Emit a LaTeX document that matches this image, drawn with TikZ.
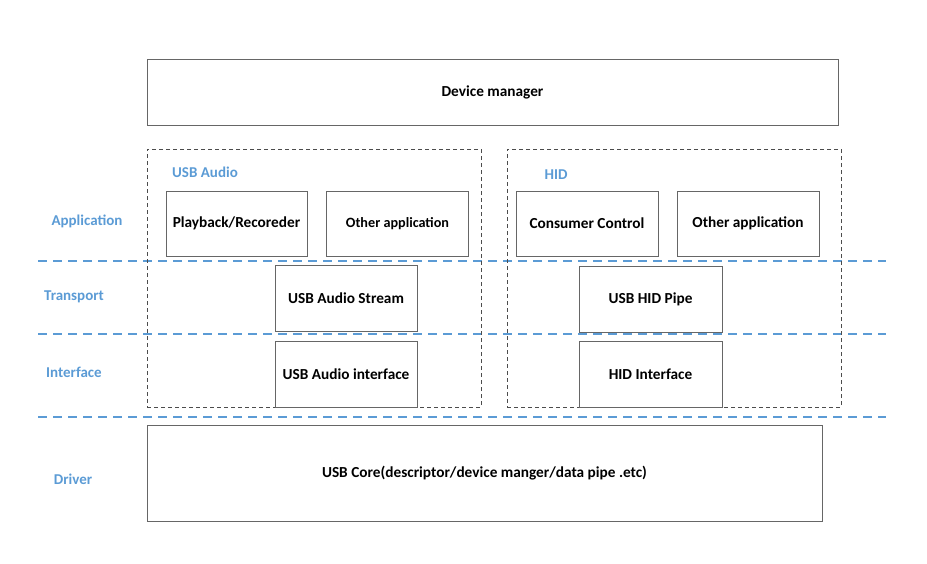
\documentclass[tikz,border=0pt]{standalone}
\usepackage{fontspec}
\setmainfont{Carlito}
\usetikzlibrary{positioning}
\definecolor{ublue}{RGB}{91,155,213}

\begin{document}
\begin{tikzpicture}[x=1pt, y=-1pt,
	box/.style = {draw=black!60, line width=1pt, fill=white, font=\fontsize{15.3}{17}\selectfont\bfseries},
	grp/.style = {draw=black!70, line width=0.8pt, dash pattern=on 4pt off 3pt},
	layer/.style = {draw=ublue, line width=1.2pt, dash pattern=on 9pt off 6pt},
	lbl/.style = {text=ublue, font=\fontsize{15}{17}\selectfont\bfseries}]
\useasboundingbox (0, 0) rectangle (927, 563);

% layer borders
\draw [layer] (38, 261)  --  (886, 261);
\draw [layer] (38, 334)  --  (886, 334);
\draw [layer] (38, 417)  --  (886, 417);

% layer names
\node [lbl] (app) at (87, 221) {Application};
\node [lbl] (trans) at (74, 297) {Transport};
\node [lbl] (intf) at (74, 372) {Interface};
\node [lbl] (drv) at (73, 479) {Driver};

\node [box, minimum width = 691, minimum height = 66] (dev) at (492.5, 92) {Device manager};

% USB audio class
\node [grp, minimum width = 334, minimum height = 258] (audio) at (314, 278) {};
\node [lbl] (audiolbl) at (205, 172) {USB Audio};
\node [box, minimum width = 141, minimum height = 65] (play) at (236.5, 223.5) {Playback/Recoreder};
\node [box, minimum width = 142, minimum height = 65, font=\fontsize{14.2}{16}\selectfont\bfseries] (othA) at (397.5, 223.5) {Other application};
\node [box, minimum width = 142, minimum height = 66] (stream) at (346, 298.5) {USB Audio Stream};
\node [box, minimum width = 142, minimum height = 66] (audif) at (346, 374) {USB Audio interface};

% HID class
\node [grp, minimum width = 334, minimum height = 258] (hid) at (674, 278) {};
\node [lbl] (hidlbl) at (556, 175) {HID};
\node [box, minimum width = 142, minimum height = 65] (cc) at (587, 223.5) {Consumer Control};
\node [box, minimum width = 142, minimum height = 65] (othH) at (748, 223.5) {Other application};
\node [box, minimum width = 143, minimum height = 66] (pipe) at (650.5, 299) {USB HID Pipe};
\node [box, minimum width = 143, minimum height = 66] (hidif) at (650.5, 374) {HID Interface};

\node [box, minimum width = 675, minimum height = 96] (core) at (484.5, 473) {USB Core(descriptor/device manger/data pipe .etc)};

\end{tikzpicture}
\end{document}
